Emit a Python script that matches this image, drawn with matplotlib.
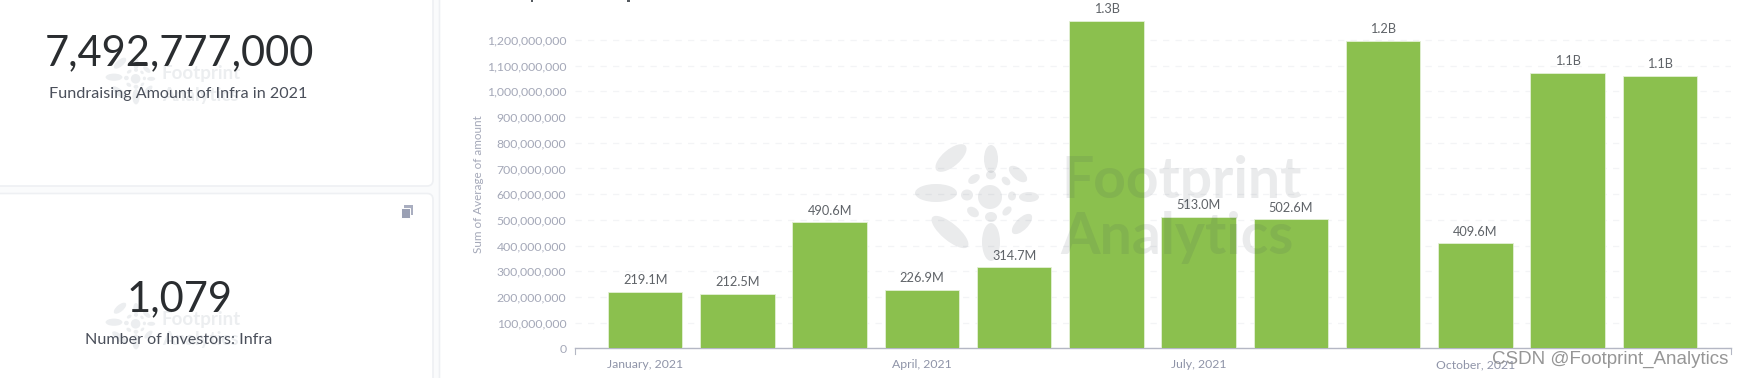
import matplotlib
matplotlib.use("Agg")
import matplotlib.pyplot as plt
from matplotlib.patches import Ellipse, FancyBboxPatch, Rectangle
from matplotlib.ticker import FuncFormatter

plt.rcParams['font.family'] = ['Lato', 'DejaVu Sans']

months = ['January, 2021', 'February, 2021', 'March, 2021', 'April, 2021', 'May, 2021', 'June, 2021',
          'July, 2021', 'August, 2021', 'September, 2021', 'October, 2021', 'November, 2021', 'December, 2021']
amounts = [219.1e6, 212.5e6, 490.6e6, 226.9e6, 314.7e6, 1274e6, 513.0e6, 502.6e6, 1196e6, 409.6e6, 1072e6, 1060e6]
bar_labels = ['219.1M', '212.5M', '490.6M', '226.9M', '314.7M', '1.3B', '513.0M', '502.6M', '1.2B', '409.6M', '1.1B', '1.1B']
shown_months = [0, 3, 6, 9]
y_ticks = [i * 100e6 for i in range(13)]
kpi_values = ['7,492,777,000', '1,079']
kpi_labels = ['Fundraising Amount of Infra in 2021', 'Number of Investors: Infra']

W, H = 1743, 378
fig = plt.figure(figsize=(W / 100, H / 100), dpi=100, facecolor='white')

# page layer in pixel coordinates
bg = fig.add_axes([0, 0, 1, 1], zorder=0)
bg.set_xlim(0, W); bg.set_ylim(H, 0); bg.axis('off')
edge = '#eef0f3'
bg.add_patch(Rectangle((0, 0), W, H, fc='#fafbfc', ec='none'))
for x, y, w, h in [(-20, -20, 453, 206), (-20, 193.5, 453, 220), (439.5, -20, 1400, 420)]:
    bg.add_patch(FancyBboxPatch((x, y), w, h, boxstyle='round,pad=0,rounding_size=6',
                                fc='white', ec=edge, lw=1.2))

def watermark(ax, cx, cy, s, col='#e6e8ea', alpha=1.0):
    kw = dict(fc=col, ec='none', zorder=1, alpha=alpha)
    for dx, dy, w, h, a in [(-1, 2, 24, 24, 0), (-55, -2, 42, 18, 0), (-40, -37, 38, 17, 40),
                            (0, -36, 14, 28, 0), (27, -21, 22, 11, -40), (38, 2, 20, 10, 0),
                            (31, 29, 26, 12, 45), (0, 47, 18, 38, 0), (-41, 37, 46, 17, -40),
                            (-24, 0, 12, 11, 0), (-17, -16, 13, 8, 35), (0, -20, 10, 9, 0),
                            (15, -14, 10, 7, -45), (21, 1, 8, 9, 0), (16, 16, 11, 7, 45),
                            (0, 22, 12, 10, 0), (-18, 17, 13, 9, -35)]:
        ax.add_patch(Ellipse((cx + dx * s, cy + dy * s), w * s, h * s, angle=-a, **kw))

for cy in (78, 323):
    watermark(bg, 136, cy, 0.4, '#eceef0')
    bg.text(162, cy - 4, 'Footprint', fontsize=13.5, fontweight='bold', color='#eceef0', va='center', ha='left')
    bg.text(162, cy + 17, 'Analytics', fontsize=13.5, fontweight='bold', color='#eceef0', va='center', ha='left')

# KPI cards
val_col, lab_col = '#2a2d30', '#4a4f5a'
bg.text(179, 53, kpi_values[0], fontsize=30, color=val_col, ha='center', va='center')
bg.text(178.5, 93.7, kpi_labels[0], fontsize=11.6, color=lab_col, ha='center', va='center')
bg.text(179.5, 299, kpi_values[1], fontsize=30, color=val_col, ha='center', va='center')
bg.text(178.5, 339.7, kpi_labels[1], fontsize=11.6, color=lab_col, ha='center', va='center')
bg.add_patch(Rectangle((404.5, 205), 9, 9.5, fc='#a9aec0', ec='none'))
bg.add_patch(Rectangle((401, 208), 9, 9.5, fc='#9aa0b4', ec='white', lw=0.7))

# descenders of the clipped card title at the top edge
bg.add_patch(Rectangle((531.5, 0), 1.6, 1.6, fc='#555a60', ec='none'))
bg.add_patch(Rectangle((627, 0), 3, 1.6, fc='#555a60', ec='none'))

# bar chart
left, right, top, bottom = 575.3, 1730.7, 16.0, 348.3
ax = fig.add_axes([left / W, 1 - bottom / H, (right - left) / W, (bottom - top) / H], zorder=2)
ax.patch.set_alpha(0)
x = list(range(len(amounts)))
bars = ax.bar(x, amounts, width=0.807, color='#8bc04e', edgecolor='#e4f0d6', linewidth=0.6, zorder=3)
ax.set_xlim(-0.758, 11.767)
ax.set_ylim(0, (bottom - top) / 25.69 * 100e6)
for b, lab in zip(bars, bar_labels):
    ax.annotate(lab, (b.get_x() + b.get_width() / 2, b.get_height()), xytext=(0, 4), textcoords='offset points',
                ha='center', va='bottom', fontsize=9.2, color='#5f6368', annotation_clip=False, zorder=4)

ax.set_yticks(y_ticks)
ax.yaxis.set_major_formatter(FuncFormatter(lambda v, _: f'{v:,.0f}'))
ax.tick_params(axis='y', length=0, pad=6.5, labelsize=8.85, labelcolor='#a4a8b8')
ax.set_xticks(x)
ax.set_xticklabels([months[i] if i in shown_months else '' for i in x])
ax.tick_params(axis='x', length=0, pad=8, labelsize=8.8, labelcolor='#8f94a8')
ax.grid(axis='y', color='#f3f4f6', lw=0.9, ls=(0, (5, 5)), zorder=0)
ax.set_axisbelow(True)
for s in ('top', 'left', 'right'):
    ax.spines[s].set_visible(False)
ax.spines['bottom'].set_color('#b4b7c4')
ax.spines['bottom'].set_linewidth(1.0)
ax.plot([0, 0], [0, -0.018], transform=ax.transAxes, color='#b4b7c4', lw=0.8, clip_on=False)
ax.plot([1, 1], [0, -0.018], transform=ax.transAxes, color='#b4b7c4', lw=0.8, clip_on=False)
fig.text(478 / W, 1 - 184.5 / H, 'Sum of Average of amount', rotation=90, fontsize=8.4, color='#a4a8b8',
         ha='center', va='center', zorder=3)

# large watermark lies over the bars, which show through it
top_layer = fig.add_axes([0, 0, 1, 1], zorder=4)
top_layer.set_xlim(0, W); top_layer.set_ylim(H, 0); top_layer.axis('off')
wm_col, wm_alpha = '#404a58', 0.11
watermark(top_layer, 991, 195, 1.0, wm_col, wm_alpha)
top_layer.text(1061, 181, 'Footprint', fontsize=41, fontweight='bold', color=wm_col, alpha=wm_alpha, va='center', ha='left')
top_layer.text(1060, 238, 'Analytics', fontsize=41, fontweight='bold', color=wm_col, alpha=wm_alpha, va='center', ha='left')

# site credit over the picture
fig.text(1728 / W, 1 - 359 / H, 'CSDN @Footprint_Analytics', fontsize=13.5, color='#8b8b8b', alpha=0.9,
         family=['Liberation Sans', 'DejaVu Sans'], ha='right', va='center', zorder=5)

fig.savefig('out.png', dpi=100, facecolor='white')
